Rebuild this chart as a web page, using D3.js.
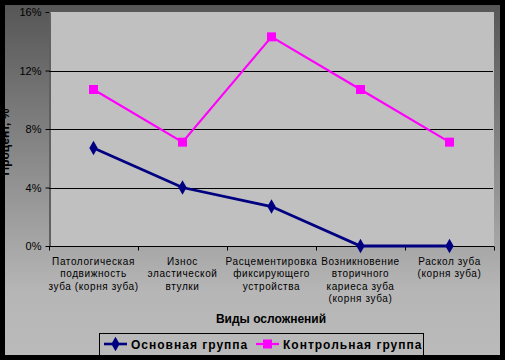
<!DOCTYPE html>
<html><head><meta charset="utf-8">
<script src="https://cdn.jsdelivr.net/npm/d3@7"></script>
<style>body{margin:0;background:#000;}svg{display:block;font-family:Arial,"Liberation Sans",sans-serif;}</style>
</head><body>
<svg id="c" width="505" height="360"></svg>
<script>
const categories = [
  ["Патологическая","подвижность","зуба (корня зуба)"],
  ["Износ","эластической","втулки"],
  ["Расцементировка","фиксирующего","устройства"],
  ["Возникновение","вторичного","кариеса зуба","(корня зуба)"],
  ["Раскол зуба","(корня зуба)"]
];
const mainGroup = [6.7, 4.0, 2.7, 0, 0];
const controlGroup = [10.7, 7.1, 14.3, 10.7, 7.1];
const yTicks = [0, 4, 8, 12, 16];
const seriesNames = ["Основная группа", "Контрольная группа"];

const svg = d3.select("#c");
const defs = svg.append("defs");
const g0 = defs.append("linearGradient").attr("id","bg").attr("x1",0).attr("y1",0).attr("x2",0).attr("y2",1);
g0.append("stop").attr("offset",0).attr("stop-color","#565656");
g0.append("stop").attr("offset",0.82).attr("stop-color","#b6b6b6");
g0.append("stop").attr("offset",1).attr("stop-color","#bababa");

svg.append("rect").attr("width",505).attr("height",360).attr("fill","#000");
svg.append("rect").attr("x",5).attr("y",5).attr("width",495).attr("height",350).attr("fill","url(#bg)");

const L=49, R=494, T=12, B=246;
const x = d3.scaleBand().domain(d3.range(categories.length)).range([L,R]);
const y = d3.scaleLinear().domain([0,16]).range([B,T]);

svg.append("rect").attr("x",L).attr("y",T).attr("width",R-L).attr("height",B-T).attr("fill","#c0c0c0");

// gridlines
svg.append("g").selectAll("line").data(yTicks.filter(d=>d>0 && d<16)).join("line")
  .attr("x1",L).attr("x2",R-1).attr("y1",d=>Math.round(y(d))+0.5).attr("y2",d=>Math.round(y(d))+0.5)
  .attr("stroke","#000").attr("stroke-width",1);

// y axis
const yAxis = svg.append("g").attr("transform",`translate(${L+0.5},0)`)
  .call(d3.axisLeft(y).tickValues(yTicks).tickFormat(d=>d+"%").tickSize(4).tickSizeOuter(0));
yAxis.select(".domain").attr("stroke","#000");
yAxis.selectAll("text").attr("font-size","11px").attr("fill","#000").attr("font-family","Arial,'Liberation Sans',sans-serif").attr("dx","-1");

// x axis
const xb = svg.append("g").attr("transform",`translate(0,${B+0.5})`);
xb.append("line").attr("x1",L).attr("x2",R).attr("stroke","#000");
const bounds = d3.range(categories.length+1).map(i=> i<categories.length ? x(i) : x(i-1)+x.bandwidth());
xb.selectAll("line.t").data(bounds).join("line").attr("class","t")
  .attr("x1",d=>Math.round(d)+0.5).attr("x2",d=>Math.round(d)+0.5).attr("y1",0).attr("y2",4).attr("stroke","#000");
const lbl = xb.selectAll("text").data(categories).join("text")
  .attr("text-anchor","middle").attr("font-size","10px").attr("letter-spacing","0.6px").attr("fill","#000")
  .attr("transform",(d,i)=>`translate(${x(i)+x.bandwidth()/2},0)`);
lbl.selectAll("tspan").data(d=>d).join("tspan").attr("x",0).attr("y",(d,j)=>18+j*12.6).text(d=>d);

// axis titles
svg.append("text").attr("x",271).attr("y",323).attr("text-anchor","middle")
  .attr("font-size","12px").attr("font-weight","bold").attr("fill","#000").text("Виды осложнений");
svg.append("text").attr("transform","translate(9,142) rotate(-90)").attr("text-anchor","middle")
  .attr("font-size","12px").attr("font-weight","bold").attr("fill","#000").text("Процент, %");

// lines
const cx = i => x(i)+x.bandwidth()/2;
const line = d3.line().x((d,i)=>cx(i)).y(d=>y(d));
svg.append("path").datum(controlGroup).attr("d",line).attr("fill","none").attr("stroke","#ff00ff").attr("stroke-width",2.2);
svg.append("path").datum(mainGroup).attr("d",line).attr("fill","none").attr("stroke","#000080").attr("stroke-width",2.8);

const sq = d3.symbol().type(d3.symbolSquare).size(81);
const dm = d3.symbol().type(d3.symbolDiamond).size(60);
svg.append("g").selectAll("path").data(controlGroup).join("path")
  .attr("d",sq).attr("transform",(d,i)=>`translate(${cx(i)},${y(d)})`).attr("fill","#ff00ff");
svg.append("g").selectAll("path").data(mainGroup).join("path")
  .attr("d",dm).attr("transform",(d,i)=>`translate(${cx(i)},${y(d)})`).attr("fill","#000080");

// black left border over clipped title
svg.append("rect").attr("x",0).attr("y",0).attr("width",5).attr("height",360).attr("fill","#000");

// legend
const lg = svg.append("g");
lg.append("rect").attr("x",99.5).attr("y",333.5).attr("width",324).attr("height",22).attr("fill","none").attr("stroke","#000");
const legendItems = [
  {name:seriesNames[0], color:"#000080", sym:dm, x0:104, tx:131, w:2.6},
  {name:seriesNames[1], color:"#ff00ff", sym:sq, x0:256, tx:283, w:2.2}
];
legendItems.forEach(it=>{
  lg.append("line").attr("x1",it.x0).attr("x2",it.x0+23).attr("y1",344).attr("y2",344).attr("stroke",it.color).attr("stroke-width",it.w);
  lg.append("path").attr("d",it.sym).attr("transform",`translate(${it.x0+11.5},344)`).attr("fill",it.color);
  lg.append("text").attr("x",it.tx).attr("y",349).attr("font-size","12px").attr("font-weight","bold")
    .attr("letter-spacing","1px").attr("fill","#000").text(it.name);
});
</script>
</body></html>
